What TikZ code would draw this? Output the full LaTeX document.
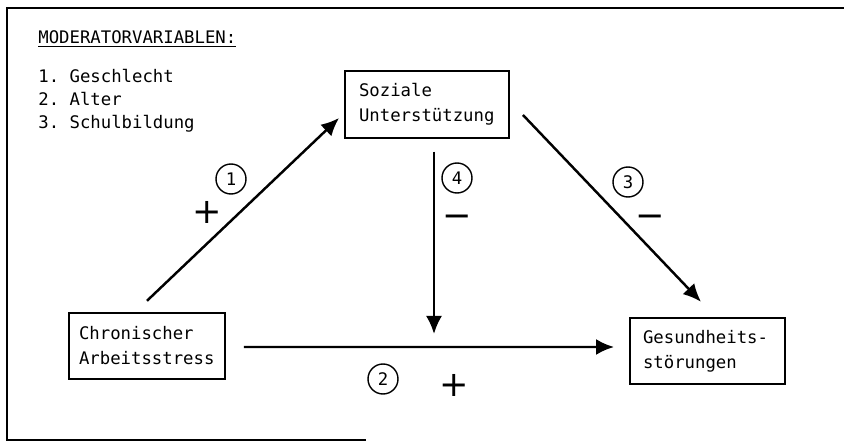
\documentclass[tikz,border=0pt]{standalone}
\usepackage{fontspec}
\setmonofont{DejaVu Sans Mono}
\newfontfamily\signfont{DejaVu Sans}
\usepackage{tikz}
\usetikzlibrary{arrows.meta,positioning}

\begin{document}
\begin{tikzpicture}[font=\ttfamily\fontsize{9.85}{14.2}\selectfont,>={Latex[length=3.6mm,width=3.2mm]},
entity/.style={draw,line width=1.1pt,align=left,text width=2.72cm,inner sep=0pt,minimum height=13.3mm},
num/.style={draw,circle,line width=.8pt,minimum size=6mm,inner sep=0pt},
sign/.style={font=\signfont\fontsize{20}{20}\selectfont,inner sep=0pt},
lab/.style={anchor=base west,inner sep=0pt},
arr/.style={->,line width=1.4pt}]
\useasboundingbox (0,0) rectangle (16.88,8.86);
\draw[line width=1pt] (16.88,8.70)--(.14,8.70)--(.14,.06)--(7.32,.06);
% Moderatoren
\node[lab] (title) at (.76,7.98) {\underline{MODERATORVARIABLEN:}};
\node[lab] (m1) at (.76,7.20) {1. Geschlecht};
\node[lab] (m2) at (.76,6.74) {2. Alter};
\node[lab] (m3) at (.76,6.28) {3. Schulbildung};
% Variablen
\node[entity,minimum width=3.28cm] (support) at (8.54,6.77) {Soziale\\Unterstützung};
\node[entity,minimum width=3.12cm] (stress) at (2.94,1.94) {Chronischer\\Arbeitsstress};
\node[entity,minimum width=3.10cm,text width=2.58cm] (health) at (14.15,1.84) {Gesundheits-\\störungen};
\coordinate (knot) at (8.68,2.18);
% Pfade
\draw[arr] ([yshift=.22cm]stress.north)--([xshift=-.1cm,yshift=-.27cm]support.west);
\draw[arr] ([xshift=.36cm,yshift=-.02cm]stress.east)--([xshift=-.3cm,yshift=.08cm]health.west);
\draw[arr] ([xshift=.26cm,yshift=-.21cm]support.east)--([xshift=-.13cm,yshift=.3cm]health.north);
\draw[arr] ([xshift=.14cm,yshift=-.26cm]support.south)--(knot);
\node[num] (n1) at (4.62,5.28) {1};
\node[num] (n2) at (7.66,1.28) {2};
\node[num] (n3) at (12.56,5.22) {3};
\node[num] (n4) at (9.14,5.30) {4};
\node[sign] (s1) at (4.14,4.62) {+};
\node[sign] (s2) at (9.08,1.16) {+};
\node[sign] (s3) at (13.00,4.44) {−};
\node[sign] (s4) at (9.14,4.44) {−};
\end{tikzpicture}
\end{document}
